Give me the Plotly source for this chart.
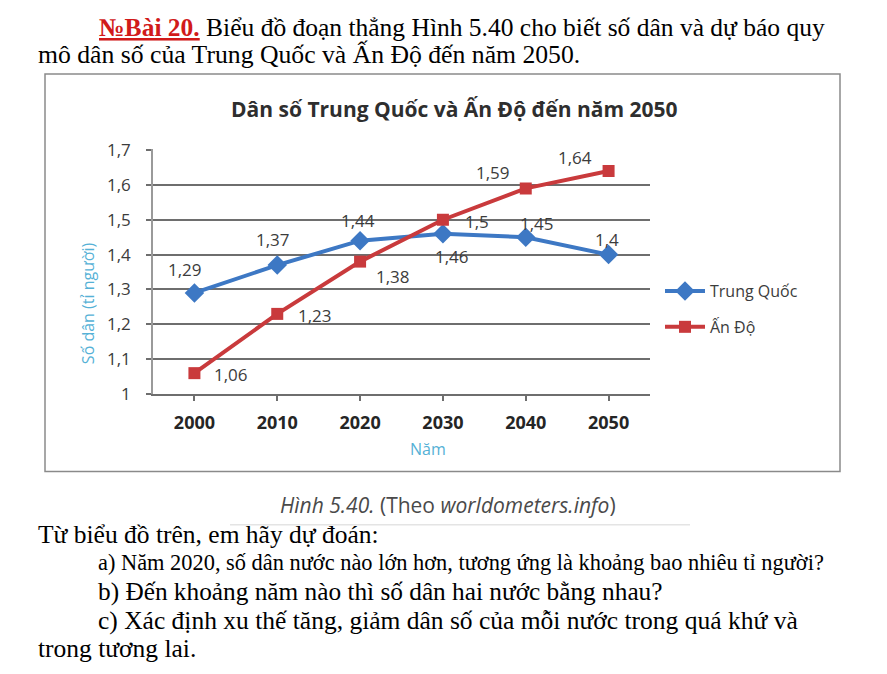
import plotly.graph_objects as go

W, H = 887, 674

years = ["2000", "2010", "2020", "2030", "2040", "2050"]
china = [1.29, 1.37, 1.44, 1.46, 1.45, 1.40]
india = [1.06, 1.23, 1.38, 1.50, 1.59, 1.64]
series_names = ["Trung Quốc", "Ấn Độ"]
y_ticks = [1.0, 1.1, 1.2, 1.3, 1.4, 1.5, 1.6, 1.7]

# label offsets in pixels (dx, dy) relative to each point
china_off = [(-9, -23), (-4, -26), (-2, -20), (9, 23), (11, -14), (-2, -15)]
india_off = [(37, 1), (38, 2), (33, 15), (34, 2), (-33, -16), (-34, -13)]

def X(px):
    return px / W

def Y(py):
    return 1 - py / H

BLUE = "#3d78c4"
RED = "#c93a3c"
GRID = "#6e6e6e"
LABEL = "#3c3c3c"
CYAN = "#55b1d6"

fig = go.Figure()
fig.add_trace(go.Scatter(
    x=years, y=china, name=series_names[0], mode="lines+markers",
    line=dict(color=BLUE, width=4),
    marker=dict(symbol="diamond", size=15, color=BLUE),
    legendgroup="a",
))
fig.add_trace(go.Scatter(
    x=years, y=india, name=series_names[1], mode="lines+markers",
    line=dict(color=RED, width=4),
    marker=dict(symbol="square", size=12, color=RED),
    legendgroup="b",
))

def fmt(v):
    return f"{v:g}".replace(".", ",")

annotations = []
for vals, offs in ((china, china_off), (india, india_off)):
    for i, (v, (dx, dy)) in enumerate(zip(vals, offs)):
        annotations.append(dict(
            x=i, y=v, xref="x", yref="y", text=fmt(v), showarrow=False,
            xanchor="center", yanchor="middle",
            xshift=dx, yshift=-dy,
            font=dict(family="Open Sans", size=17, color=LABEL),
        ))

def paper_text(px, py, text, font, xanchor="center", **kw):
    return dict(x=X(px), y=Y(py), xref="paper", yref="paper", showarrow=False,
                xanchor=xanchor, yanchor="middle", text=text, font=font, **kw)

# chart title
annotations.append(paper_text(
    455, 101, "<b>Dân số Trung Quốc và Ấn Độ đến năm 2050</b>",
    dict(family="Open Sans", size=21, color="#2e2e2e")))
# y title
annotations.append(paper_text(
    88, 302, "Số dân (tỉ người)",
    dict(family="Open Sans", size=16, color=CYAN), textangle=-90))
# x title
annotations.append(paper_text(
    428, 453, "Năm", dict(family="Open Sans", size=16, color=CYAN)))

serif = "Liberation Serif"
# heading text
annotations.append(paper_text(
    97, 17,
    "<b><span style='color:#d11a1a'><u>№Bài 20.</u></span></b> Biểu đồ đoạn thẳng Hình 5.40 cho biết số dân và dự báo quy",
    dict(family=serif, size=25.5, color="#000000"), xanchor="left"))
annotations.append(paper_text(
    36, 45, "mô dân số của Trung Quốc và Ấn Độ đến năm 2050.",
    dict(family=serif, size=25.7, color="#000000"), xanchor="left"))
# caption
annotations.append(paper_text(
    448, 511, "<i>Hình 5.40.</i> (Theo <i>worldometers.info</i>)",
    dict(family="Open Sans", size=21, color="#4a4a4a")))
# questions
q_lines = [
    (36, 541, "Từ biểu đồ trên, em hãy dự đoán:", 25.5),
    (96, 570, "a) Năm 2020, số dân nước nào lớn hơn, tương ứng là khoảng bao nhiêu tỉ người?", 22.4),
    (96, 600, "b) Đến khoảng năm nào thì số dân hai nước bằng nhau?", 25.3),
    (96, 630, "c) Xác định xu thế tăng, giảm dân số của mỗi nước trong quá khứ và", 25.5),
    (36, 659, "trong tương lai.", 25.5),
]
for px, py, t, fs in q_lines:
    annotations.append(paper_text(px, py, t, dict(family=serif, size=fs, color="#000000"),
                                  xanchor="left"))

shapes = [
    dict(type="rect", xref="paper", yref="paper",
         x0=X(45), x1=X(840), y0=Y(476), y1=Y(65),
         line=dict(color="#8a8a8a", width=1.5)),
    dict(type="line", xref="paper", yref="paper",
         x0=X(230), x1=X(690), y0=Y(531), y1=Y(531),
         line=dict(color="#e4e4e4", width=1.5)),
]

fig.update_layout(
    width=W, height=H,
    margin=dict(l=0, r=0, t=0, b=0),
    paper_bgcolor="white", plot_bgcolor="white",
    separators=", ",
    showlegend=True,
    legend=dict(
        x=X(660), y=Y(272), xanchor="left", yanchor="top",
        font=dict(family="Open Sans", size=16, color=LABEL),
        tracegroupgap=12, traceorder="grouped",
        bgcolor="rgba(0,0,0,0)", itemwidth=40,
    ),
    annotations=annotations,
    shapes=shapes,
    xaxis=dict(
        domain=[X(153), X(650)],
        type="category", range=[-0.5, 5.5],
        showgrid=False, zeroline=False,
        showline=True, linecolor=GRID, linewidth=2,
        ticks="outside", ticklen=5, tickcolor=GRID, tickwidth=1.5,
        tickfont=dict(family="Open Sans", size=18, color="#252525", weight="bold"),
        ticklabelstandoff=6,
    ),
    yaxis=dict(
        domain=[Y(396), Y(143)],
        range=[1.0, 1.702],
        tickvals=y_ticks,
        showgrid=True, gridcolor=GRID, gridwidth=2,
        zeroline=False,
        showline=True, linecolor="#9a9a9a", linewidth=1.5,
        ticks="outside", ticklen=5, tickcolor=GRID, tickwidth=1.5,
        tickfont=dict(family="Open Sans", size=17, color=LABEL),
        ticklabelstandoff=12,
    ),
)

fig.write_html("out.html")
